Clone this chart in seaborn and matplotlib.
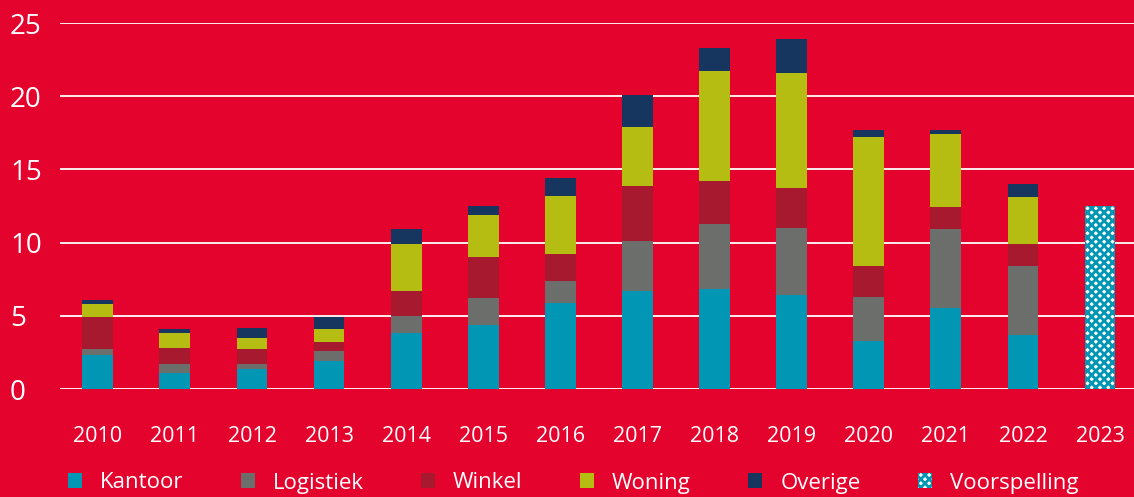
import matplotlib
matplotlib.use("Agg")
import matplotlib.pyplot as plt
from matplotlib.patches import Patch
import pandas as pd
import seaborn as sns

# Data (mld euro)
years = ["2010", "2011", "2012", "2013", "2014", "2015", "2016",
         "2017", "2018", "2019", "2020", "2021", "2022", "2023"]
kantoor = [2.3, 1.1, 1.4, 1.9, 3.8, 4.4, 5.9, 6.7, 6.8, 6.4, 3.3, 5.5, 3.7, 0]
logistiek = [0.4, 0.6, 0.3, 0.7, 1.2, 1.8, 1.5, 3.4, 4.5, 4.6, 3.0, 5.4, 4.7, 0]
winkel = [2.2, 1.1, 1.0, 0.6, 1.7, 2.8, 1.8, 3.8, 2.9, 2.7, 2.1, 1.5, 1.5, 0]
woning = [0.9, 1.0, 0.8, 0.9, 3.2, 2.9, 4.0, 4.0, 7.5, 7.9, 8.8, 5.0, 3.2, 0]
overige = [0.3, 0.3, 0.7, 0.8, 1.0, 0.6, 1.2, 2.2, 1.6, 2.3, 0.5, 0.3, 0.9, 0]
voorspelling = [0, 0, 0, 0, 0, 0, 0, 0, 0, 0, 0, 0, 0, 12.5]

series = ["Kantoor", "Logistiek", "Winkel", "Woning", "Overige"]
colors = {"Kantoor": "#0096B4", "Logistiek": "#6B6E6B", "Winkel": "#A6192E",
          "Woning": "#B5BC12", "Overige": "#17365F"}
bg = "#E4032D"

df = pd.DataFrame({"year": years, "Kantoor": kantoor, "Logistiek": logistiek,
                   "Winkel": winkel, "Woning": woning, "Overige": overige,
                   "Voorspelling": voorspelling})
cum = df[series].cumsum(axis=1)
cum["year"] = df["year"]

plt.rcParams["font.family"] = ["Open Sans", "DejaVu Sans"]
plt.rcParams["hatch.linewidth"] = 2.0

fig = plt.figure(figsize=(11.34, 4.97), dpi=100, facecolor=bg)
ax = fig.add_axes([60 / 1134, 1 - 389 / 497, 1 - 60 / 1134, 366 / 497])
ax.set_facecolor(bg)

# stacked bars: draw cumulative totals from top to bottom
for s in reversed(series):
    sns.barplot(data=cum, x="year", y=s, order=years, color=colors[s],
                width=0.4, saturation=1, linewidth=0, ax=ax)

# forecast bar with checker hatch
sns.barplot(data=df, x="year", y="Voorspelling", order=years, color="white",
            width=0.4, saturation=1, linewidth=0, ax=ax)
ax.patches[-1].set_hatch("xxxx")
for p in ax.patches[-len(years):]:
    p.set_edgecolor("#0096B4")
    p.set_linewidth(0)

ax.set_xlim(-0.49, 13.44)
ax.set_ylim(0, 25)
ax.set_yticks([0, 5, 10, 15, 20, 25])
ax.grid(axis="y", color="white", linewidth=1.3)
ax.set_axisbelow(True)
for sp in ax.spines.values():
    sp.set_visible(False)
ax.set_xlabel("")
ax.set_ylabel("")
ax.tick_params(axis="y", length=0, pad=36, labelsize=20, labelcolor="white")
ax.tick_params(axis="x", length=0, pad=27, labelsize=15.5, labelcolor="white")
for lab in ax.get_yticklabels():
    lab.set_horizontalalignment("left")

handles = [Patch(facecolor=colors[s], edgecolor="none", label=s) for s in series]
handles.append(Patch(facecolor="white", edgecolor="#0096B4", linewidth=0,
                     hatch="xxxx", label="Voorspelling"))
leg = fig.legend(handles=handles, loc="center left", ncol=6,
                 bbox_to_anchor=(68 / 1134, 14 / 497), frameon=False,
                 fontsize=16, handlelength=0.63, handleheight=0.63,
                 handletextpad=0.81, columnspacing=2.58, borderpad=0,
                 borderaxespad=0)
for t in leg.get_texts():
    t.set_color("white")

fig.savefig("out.png", dpi=100, facecolor=bg)
